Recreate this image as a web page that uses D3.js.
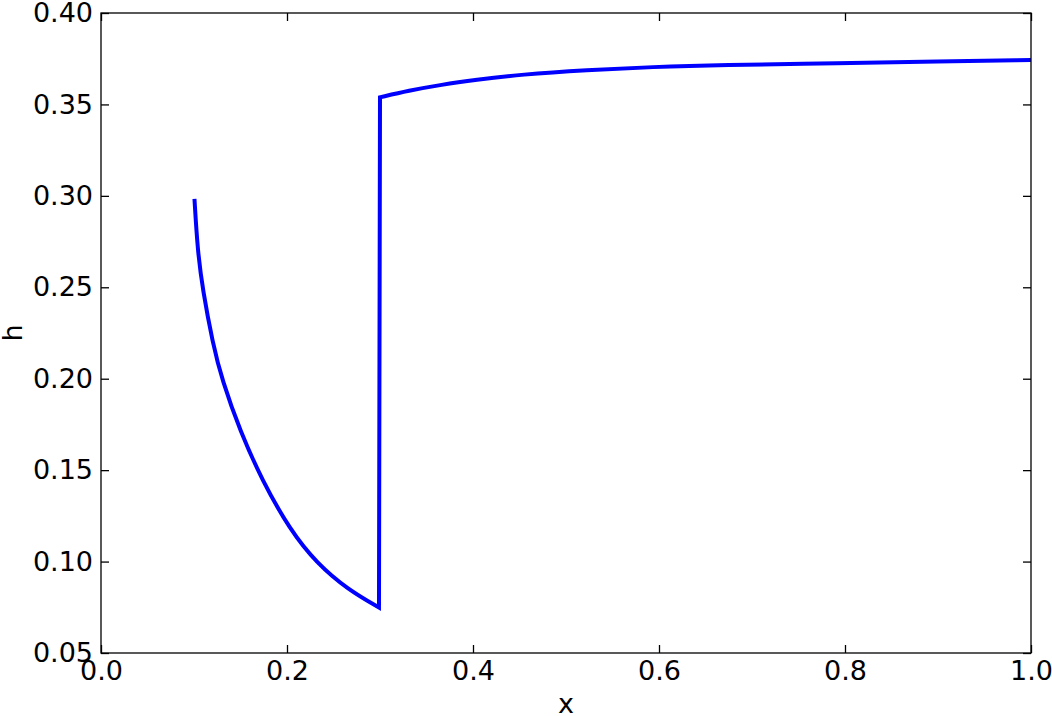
<!DOCTYPE html>
<html>
<head>
<meta charset="utf-8">
<script src="https://cdn.jsdelivr.net/npm/d3@7"></script>
<style>
  html, body { margin: 0; padding: 0; background: #fff; }
  svg { display: block; }
  text { font-family: "DejaVu Sans", sans-serif; fill: #000; }
</style>
</head>
<body>
<svg id="chart" width="1052" height="716"></svg>
<script>
// Data
// Segment before the jump (falling branch)
const seg1X = [0.1005, 0.1038, 0.1094, 0.1201, 0.1300, 0.1498, 0.1731, 0.2032, 0.2319, 0.2659, 0.2989];
const seg1H = [0.2983, 0.2704, 0.2485, 0.2195, 0.1995, 0.1710, 0.1446, 0.1173, 0.0991, 0.0845, 0.0749];
// Segment after the jump (rising branch)
const seg2X = [0.3000, 0.3304, 0.3663, 0.4022, 0.4516, 0.5223, 0.5935, 0.6656, 0.795, 0.900, 1.000];
const seg2H = [0.3539, 0.3575, 0.3608, 0.3634, 0.3664, 0.3688, 0.3705, 0.3716, 0.3725, 0.3735, 0.3743];
const xTicks = [0.0, 0.2, 0.4, 0.6, 0.8, 1.0];
const yTicks = [0.05, 0.10, 0.15, 0.20, 0.25, 0.30, 0.35, 0.40];
const xLabel = "x";
const yLabel = "h";

(function () {
const svg = d3.select("#chart");
const mLeft = 101, mRight = 1031, mTop = 13, mBottom = 653;

const x = d3.scaleLinear().domain([0, 1]).range([mLeft, mRight]);
const y = d3.scaleLinear().domain([0.05, 0.40]).range([mBottom, mTop]);

const fontSize = 27;
const tickLen = 8;

// Line (one path, two smooth branches joined by the vertical jump)
const line = d3.line().x(d => x(d[0])).y(d => y(d[1])).curve(d3.curveBasis);
const s1 = seg1X.map((v, i) => [v, seg1H[i]]);
const s2 = seg2X.map((v, i) => [v, seg2H[i]]);
const dPath = line(s1) + line(s2).replace(/^M/, "L");
svg.append("path")
  .attr("fill", "none")
  .attr("stroke", "#0000ff")
  .attr("stroke-width", 4)
  .attr("stroke-linejoin", "miter")
  .attr("stroke-miterlimit", 20)
  .attr("d", dPath);

// Axes (classic matplotlib: ticks inside on all four sides)
const axBottom = d3.axisBottom(x).tickValues(xTicks).tickFormat(d3.format(".1f"))
  .tickSizeInner(-tickLen).tickSizeOuter(0).tickPadding(8);
const axTop = d3.axisTop(x).tickValues(xTicks).tickFormat("").tickSizeInner(-tickLen).tickSizeOuter(0);
const axLeft = d3.axisLeft(y).tickValues(yTicks).tickFormat(d3.format(".2f"))
  .tickSizeInner(-tickLen).tickSizeOuter(0).tickPadding(8);
const axRight = d3.axisRight(y).tickValues(yTicks).tickFormat("").tickSizeInner(-tickLen).tickSizeOuter(0);

function style(g) {
  g.select(".domain").remove();
  g.selectAll(".tick line").attr("stroke", "#000").attr("stroke-width", 1.3);
  g.selectAll(".tick text").attr("font-size", fontSize).attr("font-family", "DejaVu Sans").attr("fill", "#000");
}
svg.append("g").attr("transform", `translate(0,${mBottom})`).call(axBottom).call(style);
svg.append("g").attr("transform", `translate(0,${mTop})`).call(axTop).call(style);
svg.append("g").attr("transform", `translate(${mLeft},0)`).call(axLeft).call(style);
svg.append("g").attr("transform", `translate(${mRight},0)`).call(axRight).call(style);

// Frame
svg.append("rect")
  .attr("x", mLeft).attr("y", mTop)
  .attr("width", mRight - mLeft).attr("height", mBottom - mTop)
  .attr("fill", "none").attr("stroke", "#000").attr("stroke-width", 1.3);

// Axis labels
svg.append("text")
  .attr("x", (mLeft + mRight) / 2).attr("y", 713)
  .attr("text-anchor", "middle").attr("font-size", fontSize)
  .text(xLabel);
svg.append("text")
  .attr("transform", `translate(22,${(mTop + mBottom) / 2}) rotate(-90)`)
  .attr("text-anchor", "middle").attr("font-size", fontSize)
  .text(yLabel);
})();
</script>
</body>
</html>
